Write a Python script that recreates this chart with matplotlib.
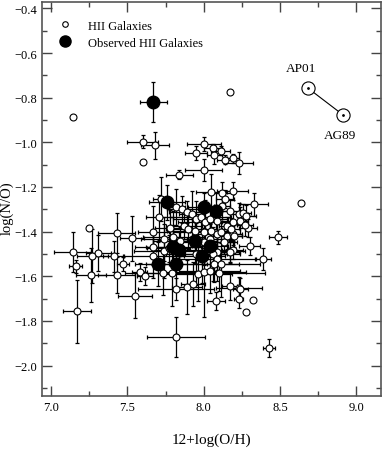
import numpy as np
import matplotlib
matplotlib.use("Agg")
import matplotlib.pyplot as plt

plt.rcParams['font.family'] = ['Liberation Serif', 'DejaVu Serif']

# HII galaxies with error bars: 12+log(O/H), log(N/O), errors
hii_x = [7.60, 7.68, 8.00, 7.95, 8.06, 8.11, 8.07, 8.14, 8.19, 8.23,
         7.84, 8.00, 7.72, 7.82, 7.86, 7.89, 7.92, 8.05, 8.12, 8.19,
         8.14, 8.12, 8.17, 8.23, 8.26, 8.28, 8.33, 7.71, 7.95, 7.98,
         8.01, 8.04, 8.085, 8.19, 8.24, 7.78, 7.87, 7.90, 7.94, 7.67,
         8.00, 8.05, 8.085, 8.11, 8.15, 8.19, 8.15, 8.18, 8.29, 8.27,
         8.20, 8.485, 7.53, 7.43, 7.74, 7.80, 7.845, 8.00, 8.04, 8.13,
         8.30, 7.67, 7.74, 7.77, 7.95, 8.085, 8.17, 8.19, 7.14, 7.31,
         7.27, 7.41, 7.47, 7.16, 7.67, 8.06, 8.085, 8.07, 8.11, 8.17,
         8.39, 7.26, 7.43, 7.58, 7.615, 7.735, 7.79, 7.965, 8.00, 8.04,
         8.10, 7.82, 7.89, 7.93, 8.17, 8.23, 8.24, 8.08, 8.23, 7.17,
         7.55, 7.82, 8.43]
hii_y = [-0.997, -1.013, -1.008, -1.048, -1.027, -1.038, -1.055, -1.078, -1.072, -1.092,
         -1.145, -1.123, -1.254, -1.291, -1.300, -1.313, -1.320, -1.222, -1.227, -1.217,
         -1.254, -1.284, -1.306, -1.320, -1.317, -1.329, -1.278, -1.336, -1.343, -1.336,
         -1.358, -1.343, -1.351, -1.359, -1.351, -1.385, -1.374, -1.388, -1.396, -1.403,
         -1.403, -1.396, -1.410, -1.403, -1.418, -1.410, -1.374, -1.388, -1.385, -1.370,
         -1.418, -1.426, -1.430, -1.406, -1.433, -1.426, -1.440, -1.448, -1.433, -1.448,
         -1.466, -1.470, -1.486, -1.475, -1.500, -1.493, -1.486, -1.483, -1.490, -1.496,
         -1.510, -1.510, -1.545, -1.555, -1.508, -1.500, -1.523, -1.545, -1.545, -1.490,
         -1.523, -1.593, -1.594, -1.580, -1.597, -1.585, -1.585, -1.590, -1.582, -1.575,
         -1.585, -1.657, -1.647, -1.635, -1.645, -1.654, -1.657, -1.712, -1.700, -1.757,
         -1.687, -1.873, -1.922]
hii_xerr = [0.10, 0.09, 0.11, 0.07, 0.06, 0.06, 0.05, 0.05, 0.04, 0.09,
            0.09, 0.12, 0.05, 0.06, 0.10, 0.12, 0.08, 0.10, 0.08, 0.10,
            0.06, 0.05, 0.07, 0.06, 0.05, 0.06, 0.09, 0.09, 0.15, 0.20,
            0.18, 0.12, 0.10, 0.07, 0.05, 0.10, 0.12, 0.15, 0.18, 0.10,
            0.20, 0.14, 0.12, 0.08, 0.10, 0.06, 0.05, 0.06, 0.06, 0.05,
            0.05, 0.06, 0.08, 0.12, 0.15, 0.20, 0.18, 0.22, 0.15, 0.07,
            0.07, 0.12, 0.20, 0.14, 0.20, 0.15, 0.10, 0.07, 0.12, 0.08,
            0.10, 0.07, 0.04, 0.04, 0.20, 0.18, 0.25, 0.30, 0.12, 0.06,
            0.05, 0.10, 0.12, 0.05, 0.05, 0.25, 0.18, 0.22, 0.28, 0.20,
            0.30, 0.25, 0.10, 0.08, 0.05, 0.15, 0.05, 0.06, 0.03, 0.09,
            0.11, 0.19, 0.04]
hii_yerr = [0.03, 0.06, 0.03, 0.03, 0.02, 0.02, 0.04, 0.02, 0.02, 0.05,
            0.02, 0.05, 0.10, 0.08, 0.06, 0.05, 0.10, 0.08, 0.05, 0.04,
            0.04, 0.06, 0.05, 0.05, 0.04, 0.05, 0.05, 0.10, 0.08, 0.06,
            0.10, 0.05, 0.07, 0.05, 0.06, 0.08, 0.06, 0.09, 0.05, 0.12,
            0.07, 0.06, 0.08, 0.05, 0.06, 0.05, 0.04, 0.05, 0.04, 0.05,
            0.05, 0.03, 0.10, 0.09, 0.10, 0.12, 0.06, 0.10, 0.07, 0.05,
            0.04, 0.08, 0.12, 0.06, 0.14, 0.08, 0.05, 0.04, 0.09, 0.08,
            0.12, 0.07, 0.03, 0.03, 0.10, 0.12, 0.10, 0.08, 0.15, 0.05,
            0.05, 0.12, 0.08, 0.04, 0.04, 0.10, 0.15, 0.12, 0.20, 0.10,
            0.08, 0.05, 0.12, 0.10, 0.06, 0.05, 0.05, 0.04, 0.04, 0.14,
            0.10, 0.09, 0.04]

# HII galaxies without error bars
nobar_x = [7.14, 8.17, 7.60, 7.25, 8.64, 8.32, 8.28]
nobar_y = [-0.888, -0.776, -1.087, -1.385, -1.272, -1.705, -1.759]

# observed HII galaxies
obs_x = [7.67, 7.76, 8.00, 8.08, 7.70, 7.80, 7.84, 7.82, 7.94, 7.99, 8.04]
obs_y = [-0.821, -1.269, -1.289, -1.306, -1.545, -1.47, -1.48, -1.545, -1.44, -1.508, -1.466]
obs_xerr = [0.09, 0.12, 0.10, 0.10, 0.15, 0.18, 0.15, 0.20, 0.15, 0.15, 0.12]
obs_yerr = [0.09, 0.08, 0.06, 0.08, 0.10, 0.10, 0.08, 0.12, 0.10, 0.12, 0.10]

# reference points
ref_names = ['AP01', 'AG89']
ref_x = [8.685, 8.915]
ref_y = [-0.758, -0.878]

yticks = [-2.0, -1.8, -1.6, -1.4, -1.2, -1.0, -0.8, -0.6, -0.4]

fig = plt.figure(figsize=(3.82, 4.52), dpi=100)
ax = fig.add_axes([0.110, 0.1223, 0.8866, 0.8707])

ax.errorbar(hii_x, hii_y, xerr=hii_xerr, yerr=hii_yerr, fmt='none',
            ecolor='black', elinewidth=0.9, capsize=1.5, capthick=0.9, zorder=2)
ax.errorbar(obs_x, obs_y, xerr=obs_xerr, yerr=obs_yerr, fmt='none',
            ecolor='black', elinewidth=0.9, capsize=1.5, capthick=0.9, zorder=2)
ax.plot(hii_x, hii_y, 'o', ms=5, mfc='white', mec='black', mew=0.8, zorder=3)
ax.plot(nobar_x, nobar_y, 'o', ms=5, mfc='white', mec='black', mew=0.8, zorder=3)
ax.plot(obs_x, obs_y, 'o', ms=9, mfc='black', mec='black', zorder=4)

# legend entries
ax.plot([], [], 'o', ms=4, mfc='white', mec='black', mew=0.8, ls='none', label='HII Galaxies')
ax.plot([], [], 'o', ms=8, mfc='black', mec='black', ls='none', label='Observed HII Galaxies')
ax.legend(loc='upper left', frameon=False, fontsize=9, handletextpad=0.8,
          borderaxespad=0.3, labelspacing=0.4, bbox_to_anchor=(0.006, 0.978))

ax.plot(ref_x, ref_y, '-', color='black', lw=0.8, zorder=3)
ax.plot(ref_x, ref_y, 'o', ms=9.5, mfc='white', mec='black', mew=0.8, zorder=4)
ax.plot(ref_x, ref_y, '.', ms=2, color='black', zorder=5)
ax.text(ref_x[0] - 0.05, ref_y[0] + 0.065, ref_names[0], ha='center', va='bottom', fontsize=9.5)
ax.text(ref_x[1] - 0.025, ref_y[1] - 0.06, ref_names[1], ha='center', va='top', fontsize=9.5)

ax.set_xlim(6.94, 9.16)
ax.set_ylim(-2.135, -0.372)
ax.set_xticks([7.0, 7.5, 8.0, 8.5, 9.0])
ax.set_xticks(np.arange(7.0, 9.1, 0.25), minor=True)
ax.set_yticks(yticks)
ax.set_yticks(np.arange(-2.1, -0.39, 0.1), minor=True)
ax.set_yticklabels([('%.1f' % v).replace('-', '\u2212') for v in yticks])
ax.tick_params(which='both', direction='in', top=True, right=True, labelsize=9, color='#444444')
ax.tick_params(which='major', length=7, width=1)
ax.tick_params(which='minor', length=3.5, width=1)
for s in ax.spines.values():
    s.set_color('#555555')
    s.set_linewidth(1.2)

ax.set_xlabel('12+log(O/H)', fontsize=11, labelpad=14)
ax.set_ylabel('log(N/O)', fontsize=10.5)
ax.yaxis.set_label_coords(-0.083, 0.48)

fig.savefig('out.png', dpi=100)
